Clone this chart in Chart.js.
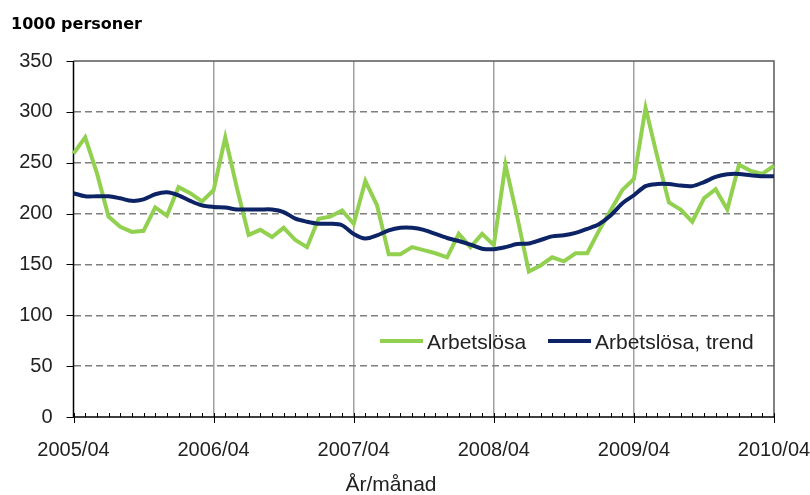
<!DOCTYPE html>
<html>
<head>
<meta charset="utf-8">
<script src="https://cdn.jsdelivr.net/npm/chart.js@4/dist/chart.umd.min.js"></script>
<style>
  html, body { margin: 0; padding: 0; background: #fff; }
  #wrap { width: 810px; height: 495px; position: relative; }
</style>
</head>
<body>
<div id="wrap"><canvas id="chart" width="810" height="495"></canvas></div>
<script>
'use strict';

// ─── Data (1000 personer, monthly 2005/04 – 2010/04) ───
const START_YEAR = 2005;
const START_MONTH = 4;
const MONTH_COUNT = 61;

const YEAR_TICKS = ['2005/04', '2006/04', '2007/04', '2008/04', '2009/04', '2010/04'];
const Y_TICKS = [0, 50, 100, 150, 200, 250, 300, 350];

const arbetslosa = [
  259, 275, 240, 197, 187, 182, 183, 206, 198, 226, 220, 212,
  223, 275, 225, 179, 184, 177, 186, 174, 167, 195, 197, 203,
  190, 232, 208, 160, 160, 167, 164, 161, 157, 180, 167, 180,
  169, 248, 197, 143, 149, 157, 153, 161, 161, 183, 203, 223,
  234, 304, 256, 211, 204, 192, 215, 224, 204, 248, 242, 239,
  247,
];

const arbetslosaTrend = [
  220, 217, 217, 217, 215, 212.5, 214, 219, 221, 218, 212.5, 208,
  206.5, 206, 204, 204, 204, 204, 201.5, 195, 192, 190, 190, 188.5,
  180, 175.5, 178.6, 183.5, 186, 186, 184, 180, 176, 173, 169.5, 165.5,
  165, 167, 170, 170.5, 174, 177.6, 178.6, 181, 185, 189.5, 198, 210,
  218, 227, 229, 229, 227.5, 227, 231, 236, 238.7, 239, 237.7, 236.7,
  236.7,
];

// category labels, one per month
const months = [];
for (let i = 0; i < MONTH_COUNT; i++) {
  const m = START_MONTH - 1 + i;
  const y = START_YEAR + Math.floor(m / 12);
  months.push(y + '/' + String((m % 12) + 1).padStart(2, '0'));
}

const GREEN = '#92d050';
const NAVY = '#0c2365';
const FONT = "'Liberation Sans', Arial, sans-serif";

// ─── Extra drawing: axis ticks, plot frame, legend, titles ───
const decorPlugin = {
  id: 'decor',
  beforeDatasetsDraw(chart) {
    const { ctx, chartArea: a, scales } = chart;
    ctx.save();
    // frame top + right
    ctx.strokeStyle = '#595959';
    ctx.lineWidth = 1.5;
    ctx.beginPath();
    ctx.moveTo(a.left, a.top);
    ctx.lineTo(a.right, a.top);
    ctx.lineTo(a.right, a.bottom);
    ctx.stroke();
    // axes
    ctx.strokeStyle = '#000';
    ctx.lineWidth = 1.5;
    ctx.beginPath();
    ctx.moveTo(a.left, a.top);
    ctx.lineTo(a.left, a.bottom);
    ctx.lineTo(a.right, a.bottom);
    ctx.stroke();
    // y ticks
    ctx.lineWidth = 1;
    ctx.beginPath();
    Y_TICKS.forEach(v => {
      const y = Math.round(scales.y.getPixelForValue(v)) + 0.5;
      ctx.moveTo(a.left - 7, y);
      ctx.lineTo(a.left, y);
    });
    // x ticks: months small, years long
    months.forEach((m, i) => {
      const x = Math.round(scales.x.getPixelForValue(i)) + 0.5;
      const major = i % 12 === 0;
      ctx.moveTo(x, a.bottom - 4);
      ctx.lineTo(x, a.bottom + (major ? 6 : 0));
    });
    ctx.stroke();
    ctx.restore();
  },
  afterDraw(chart) {
    const { ctx } = chart;
    ctx.save();
    // y unit title
    ctx.fillStyle = '#000';
    ctx.font = "bold 16px 'DejaVu Sans', sans-serif";
    ctx.textAlign = 'left';
    ctx.textBaseline = 'alphabetic';
    ctx.fillText('1000 personer', 11, 29);
    // x title
    ctx.font = '21px ' + FONT;
    ctx.fillStyle = '#222';
    ctx.textAlign = 'center';
    ctx.fillText('År/månad', 391, 491);
    // legend
    const items = [
      { label: 'Arbetslösa', color: GREEN, x: 380 },
      { label: 'Arbetslösa, trend', color: NAVY, x: 548 },
    ];
    ctx.textAlign = 'left';
    items.forEach(it => {
      ctx.strokeStyle = it.color;
      ctx.lineWidth = 4;
      ctx.beginPath();
      ctx.moveTo(it.x, 341);
      ctx.lineTo(it.x + 43, 341);
      ctx.stroke();
      ctx.fillStyle = '#222';
      ctx.fillText(it.label, it.x + 47, 348.5);
    });
    ctx.restore();
  },
};

new Chart(document.getElementById('chart'), {
  type: 'line',
  data: {
    labels: months,
    datasets: [
      {
        label: 'Arbetslösa',
        data: arbetslosa,
        borderColor: GREEN,
        borderWidth: 4,
        pointRadius: 0,
        tension: 0,
        order: 2,
      },
      {
        label: 'Arbetslösa, trend',
        data: arbetslosaTrend,
        borderColor: NAVY,
        borderWidth: 4,
        pointRadius: 0,
        tension: 0.3,
        order: 1,
      },
    ],
  },
  options: {
    responsive: false,
    animation: false,
    layout: { padding: { top: 61, right: 36, bottom: 0, left: 0 } },
    plugins: {
      legend: { display: false },
      tooltip: { enabled: false },
    },
    scales: {
      x: {
        type: 'category',
        offset: false,
        afterFit: (s) => { s.height = 78; s.paddingLeft = 0; s.paddingRight = 0; },
        border: { display: false },
        grid: {
          drawTicks: false,
          lineWidth: 1.5,
          color: (c) => (c.index % 12 === 0 && c.index > 0 && c.index < 60) ? '#a0a0a0' : 'rgba(0,0,0,0)',
        },
        ticks: {
          autoSkip: false,
          maxRotation: 0,
          padding: 21,
          color: '#222',
          font: { family: FONT, size: 20 },
          callback: (v, i) => (i % 12 === 0 ? YEAR_TICKS[i / 12] : ''),
        },
      },
      y: {
        min: 0,
        max: 350,
        afterFit: (s) => { s.width = 73.5; s.paddingTop = 0; s.paddingBottom = 0; },
        border: { display: false, dash: [7, 4] },
        grid: {
          drawTicks: false,
          lineWidth: 1.5,
          color: (c) => (c.tick && c.tick.value > 0 && c.tick.value < 350) ? '#7f7f7f' : 'rgba(0,0,0,0)',
        },
        ticks: {
          stepSize: 50,
          padding: 21,
          color: '#222',
          font: { family: FONT, size: 20 },
        },
      },
    },
  },
  plugins: [decorPlugin],
});
</script>
</body>
</html>
